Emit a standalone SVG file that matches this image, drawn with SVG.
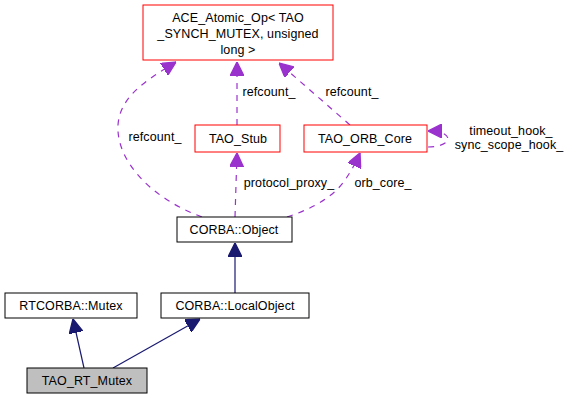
<svg xmlns="http://www.w3.org/2000/svg" width="574" height="400" viewBox="0 0 574 400">
<defs>
<style>
text{font-family:"Liberation Sans",Arial,sans-serif;font-size:12.5px;letter-spacing:0.1px;fill:#000;text-anchor:middle}
.n{fill:#fff;stroke:#000;stroke-width:1}
.r{fill:#fff;stroke:#ff0000;stroke-width:1}
.g{fill:#bfbfbf;stroke:#000;stroke-width:1}
.inh{fill:none;stroke:#191970;stroke-width:1.2}
.use{fill:none;stroke:#9a32cd;stroke-width:1.2;stroke-dasharray:6,6}
</style>
<marker id="ah" viewBox="0 0 10 10" refX="10" refY="5" markerWidth="14" markerHeight="14" markerUnits="userSpaceOnUse" orient="auto"><path d="M0,0 L10,5 L0,10 z" fill="#191970" stroke="#191970"/></marker>
<marker id="ap" viewBox="0 0 10 10" refX="10" refY="5" markerWidth="14" markerHeight="14" markerUnits="userSpaceOnUse" orient="auto"><path d="M0,0 L10,5 L0,10 z" fill="#9a32cd" stroke="#9a32cd"/></marker>
</defs>
<g id="connectors">
<path class="inh" d="M235,293 L235,243" marker-end="url(#ah)"/>
<path class="inh" d="M84,368 L73,319" marker-end="url(#ah)"/>
<path class="inh" d="M113,368 L200,319" marker-end="url(#ah)"/>
<path class="use" d="M237,125 L237,62" marker-end="url(#ap)"/>
<path class="use" d="M350,125 L279,63" marker-end="url(#ap)"/>
<path class="use" d="M202,217 C150,198 116,160 118,125 C120,95 150,78 176,62" marker-end="url(#ap)"/>
<path class="use" d="M235,217 L237,153" marker-end="url(#ap)"/>
<path class="use" d="M287,217 C315,208 335,195 345,180 C352,170 356,162 360,153" marker-end="url(#ap)"/>
<path class="use" d="M428,147 C440,147 448,143 448,139 C448,134 440,131 428,131" marker-end="url(#ap)"/>
<text x="155" y="141">refcount_</text>
<text x="269" y="96">refcount_</text>
<text x="352" y="96">refcount_</text>
<text x="289" y="187">protocol_proxy_</text>
<text x="383" y="187">orb_core_</text>
<text x="511" y="135">timeout_hook_</text>
<text x="509" y="149">sync_scope_hook_</text>
</g>
<g id="ace"><rect class="r" x="143" y="5" width="190" height="55"/><text x="238" y="22">ACE_Atomic_Op&lt; TAO</text><text x="238" y="38">_SYNCH_MUTEX, unsigned</text><text x="238" y="54">long &gt;</text></g>
<g id="stub"><rect class="r" x="195" y="125" width="85" height="27"/><text x="238" y="143">TAO_Stub</text></g>
<g id="orbcore"><rect class="r" x="304" y="125" width="123" height="27"/><text x="365" y="143">TAO_ORB_Core</text></g>
<g id="object"><rect class="n" x="177" y="217" width="115" height="25"/><text x="234" y="234">CORBA::Object</text></g>
<g id="rtmutex"><rect class="n" x="5" y="293" width="132" height="25"/><text x="71" y="310">RTCORBA::Mutex</text></g>
<g id="localobject"><rect class="n" x="161" y="293" width="148" height="25"/><text x="235" y="310">CORBA::LocalObject</text></g>
<g id="taortmutex"><rect class="g" x="27" y="368" width="120" height="25"/><text x="87" y="385">TAO_RT_Mutex</text></g>
</svg>
